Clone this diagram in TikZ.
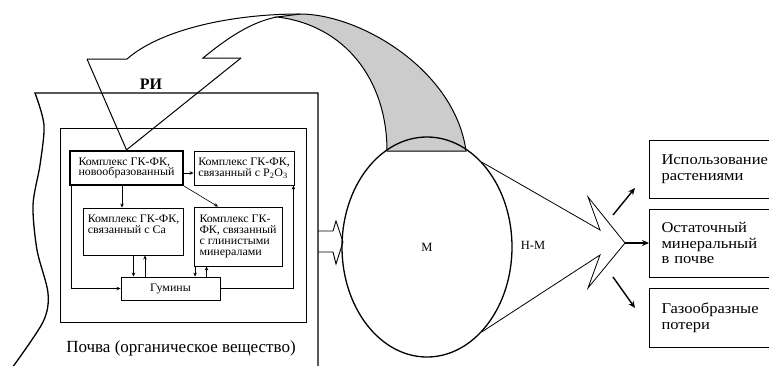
\documentclass[tikz,border=0pt]{standalone}
\usepackage{fontspec}
\setmainfont{Liberation Serif}
\newfontfamily\boxfont[FakeStretch=1.04]{Liberation Serif}
\newfontfamily\outfont[FakeStretch=1.1]{Liberation Serif}
\usetikzlibrary{shapes.geometric,arrows.meta}

\tikzset{
  box/.style={draw, rectangle, line width=0.9pt, align=left, inner xsep=4pt, inner ysep=0pt, font=\boxfont\fontsize{11.5}{10.8}\selectfont},
  outbox/.style={draw, rectangle, line width=1pt, align=left, inner xsep=12pt, inner ysep=0pt, anchor=west, minimum width=140, text width=116, font=\outfont\fontsize{15}{15.5}\selectfont},
  rib/.style={line width=1pt, line join=miter},
  arr/.style={-{Stealth[length=4pt,width=3.5pt]}, line width=0.6pt},
  bigarr/.style={-{Stealth[length=7pt,width=6pt]}, line width=1.4pt},
}

\begin{document}
\begin{tikzpicture}[x=1pt,y=-1pt]
\useasboundingbox (0,0) rectangle (769,365);

% soil and inner frame
\draw[line width=1.3pt] plot[smooth] coordinates {(12,368) (43,322) (48,293) (37,250) (33,205) (40,165) (44,125) (35,93)} -- (318,93) -- (318,368);
\draw[line width=1pt] (60,128) rectangle (306,322);
\node[font=\fontsize{17}{18}\selectfont] (soil) at (181,348) {Почва (органическое вещество)};

% boxes
\node[box, line width=2.2pt, minimum width=113, minimum height=34] (novo) at (126.5,168) {Комплекс ГК-ФК,\\новообразованный};
\node[box, minimum width=100, minimum height=34] (fosf) at (244,168) {Комплекс ГК-ФК,\\связанный с P\textsubscript{2}O\textsubscript{3}};
\node[box, minimum width=99, minimum height=47] (ca) at (133.5,231.5) {Комплекс ГК-ФК,\\связанный с Ca\\[3pt]};
\node[box, minimum width=88, minimum height=59] (glina) at (238,236.5) {Комплекс ГК-\\ФК, связанный\\с глинистыми\\минералами};
\node[box, align=center, minimum width=99, minimum height=23] (gum) at (170.5,288.5) {Гумины};

% inner arrows
\coordinate (c1) at ([xshift=-4.5]novo.south);
\coordinate (c2) at ([xshift=11.5]ca.south);
\coordinate (c3) at ([xshift=1.5]glina.south west);
\coordinate (c4) at ([xshift=13]glina.south west);
\coordinate (c5) at ([xshift=2]novo.south west);
\draw[arr] ([yshift=-5]novo.east) -- ([yshift=-5]fosf.west);
\draw[arr] (c1) -- (c1 |- ca.north);
\draw[arr] (novo.south east) -- ([xshift=-20]glina.north);
\draw[arr] (ca.south) -- (ca.south |- gum.north);
\draw[arr] (c2 |- gum.north) -- (c2);
\draw[arr] (c3) -- (c3 |- gum.north);
\draw[arr] (c4 |- gum.north) -- (c4);
\draw[arr] (c5) |- (gum.west);
\draw[arr] (gum.east) -| ([xshift=-1]fosf.south east);

% ribbon arrow RI
\filldraw[rib, fill=gray!40] (277,17) -- (300,14) .. controls (360,14) and (455,70) .. (466,151) -- (387,151) .. controls (387,80) and (345,25) .. (277,17) -- cycle;
\draw[rib] (87,59) -- (127,59) .. controls (160,30) and (230,14) .. (300,14);
\draw[rib] (241,58) -- (203,58) .. controls (225,40) and (250,22) .. (277,17);
\draw[rib] (87,59) -- (novo.north) -- (241,58);
\node[font=\bfseries\fontsize{16}{18}\selectfont] (ri) at (151,84) {РИ};

% arrow soil -> M
\draw[line width=0.9pt] (318,231) -- (333,231) -- (336,221) -- (343,242) -- (336,264) -- (333,252) -- (318,252);

% M
\node[ellipse, draw, line width=1.3pt, minimum width=170, minimum height=220, inner sep=0pt, font=\fontsize{12.5}{14}\selectfont] (M) at (427,247) {М};

% N-M
\coordinate (tip) at (625,243);
\draw[line width=0.8pt] (M.57.6) -- (600,230) -- (588,197) -- (tip) -- (588,288) -- (600,255) -- (M.-57.6);
\node[font=\fontsize{12.5}{14}\selectfont] (nm) at (533,245) {Н-М};

% outputs
\node[outbox, minimum height=58] (plant) at (649,169) {Использование\\растениями};
\node[outbox, minimum height=68] (resid) at (649,243) {Остаточный\\минеральный\\в почве};
\node[outbox, minimum height=59] (gas) at (649,317.5) {Газообразные\\потери};

\coordinate (a1) at (613,215);
\coordinate (a2) at (635,188);
\coordinate (b1) at (613,277);
\coordinate (b2) at (635,308);
\draw[bigarr] (a1) -- (a2);
\draw[bigarr] (tip) -- (resid.west);
\draw[bigarr] (b1) -- (b2);
\end{tikzpicture}
\end{document}
